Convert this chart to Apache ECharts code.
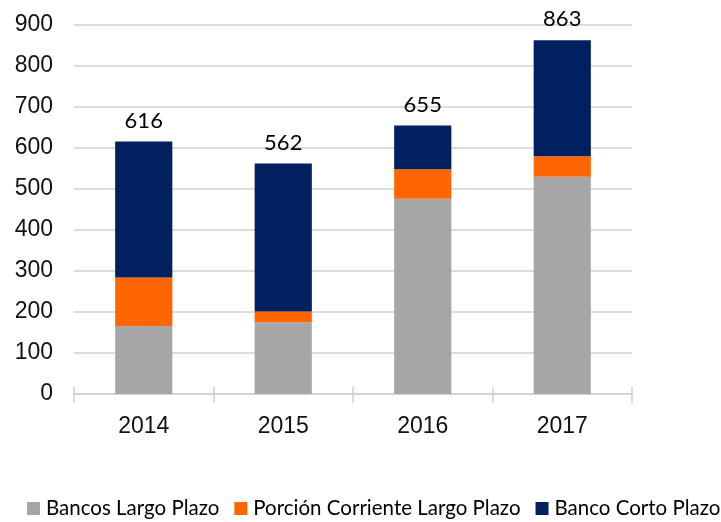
<!DOCTYPE html>
<html>
<head>
<meta charset="utf-8">
<script src="https://cdn.jsdelivr.net/npm/echarts@6/dist/echarts.min.js"></script>
<style>
  html, body { margin: 0; padding: 0; background: #fff; }
  #chart { width: 721px; height: 522px; }
</style>
</head>
<body>
<div id="chart"></div>
<script>
// Stacked debt composition by year (millions)
const years = ['2014', '2015', '2016', '2017'];
const bancosLargoPlazo = [166, 175, 476, 530];
const porcionCorriente = [118, 26, 72, 50];
const bancoCortoPlazo = [332, 361, 107, 283];
const yTicks = { min: 0, max: 900, interval: 100 };

const seriesNames = ['Bancos Largo Plazo', 'Porción Corriente Largo Plazo', 'Banco Corto Plazo'];
const colors = ['#a6a6a6', '#ff6600', '#002060'];

const totals = years.map((_, i) => bancosLargoPlazo[i] + porcionCorriente[i] + bancoCortoPlazo[i]);

const chart = echarts.init(document.getElementById('chart'), null, { renderer: 'canvas' });

const barCommon = {
  type: 'bar',
  stack: 'total',
  barWidth: '41%',
  xAxisIndex: 0
};

chart.setOption({
  animation: false,
  color: colors,
  grid: { left: 74, right: 89, top: 25, bottom: 128, containLabel: false },
  xAxis: [
    {
      type: 'category',
      data: years,
      boundaryGap: true,
      axisLine: { show: true, lineStyle: { color: '#d0d0d0', width: 1.5 } },
      axisTick: { show: true, alignWithLabel: false, length: 9, lineStyle: { color: '#d0d0d0', width: 1.5 } },
      axisLabel: { color: '#111', fontFamily: 'Liberation Sans', fontSize: 23, margin: 21 }
    },
    {
      type: 'category',
      data: years,
      position: 'bottom',
      boundaryGap: true,
      axisLine: { show: false },
      axisTick: { show: true, inside: true, length: 7, lineStyle: { color: '#d0d0d0', width: 1.5 } },
      axisLabel: { show: false }
    }
  ],
  yAxis: {
    type: 'value',
    min: yTicks.min,
    max: yTicks.max,
    interval: yTicks.interval,
    axisLine: { show: false },
    axisTick: { show: false },
    splitLine: { lineStyle: { color: '#d0d0d0', width: 1.5 } },
    axisLabel: { color: '#111', fontFamily: 'Liberation Sans', fontSize: 23, margin: 21 }
  },
  legend: {
    data: seriesNames,
    left: 22,
    top: 493,
    width: 760,
    itemWidth: 13,
    itemHeight: 13,
    itemGap: 15,
    icon: 'rect',
    textStyle: { color: '#000', fontFamily: 'Lato', fontSize: 20.5, padding: [0, 0, 0, 1] }
  },
  series: [
    Object.assign({}, barCommon, { name: seriesNames[0], data: bancosLargoPlazo }),
    Object.assign({}, barCommon, { name: seriesNames[1], data: porcionCorriente }),
    Object.assign({}, barCommon, {
      name: seriesNames[2],
      data: bancoCortoPlazo,
      label: {
        show: true,
        position: 'top',
        distance: 10,
        color: '#000',
        fontFamily: 'Lato',
        fontSize: 22,
        formatter: p => String(totals[p.dataIndex])
      }
    })
  ]
});
</script>
</body>
</html>
